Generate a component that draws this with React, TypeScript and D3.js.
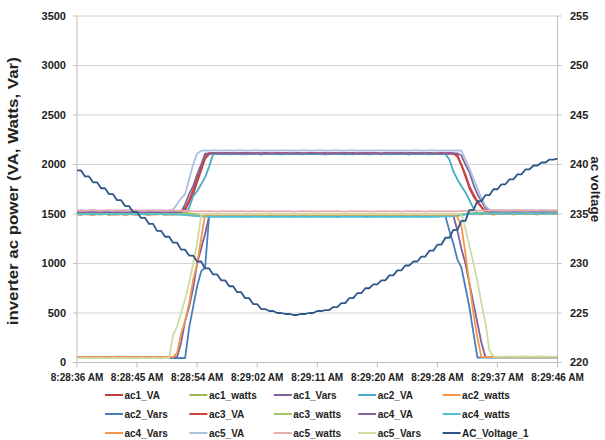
import React from "react";
import * as d3 from "d3";

const timeLabels = ["8:28:36 AM", "8:28:45 AM", "8:28:54 AM", "8:29:02 AM", "8:29:11 AM", "8:29:20 AM", "8:29:28 AM", "8:29:37 AM", "8:29:46 AM"];
const timeLabelIndex = [0, 15, 30, 45, 60, 75, 90, 105, 120];
const leftTicks = [0, 500, 1000, 1500, 2000, 2500, 3000, 3500];
const rightTicks = [220, 225, 230, 235, 240, 245, 250, 255];

const ac1_VA = [
  1513,1511,1515,1512,1510,1514,1513,1511,1516,1513,
  1512,1510,1514,1513,1511,1515,1512,1510,1513,1514,
  1511,1513,1515,1512,1510,1513,1511,1540,1620,1700,
  1820,1940,2060,2105,2112,2104,2110,2115,2106,2109,
  2113,2103,2108,2114,2105,2110,2102,2112,2107,2104,
  2111,2106,2114,2103,2109,2112,2105,2108,2115,2104,
  2110,2107,2103,2113,2108,2105,2111,2114,2106,2102,
  2109,2113,2104,2110,2107,2115,2103,2108,2112,2106,
  2104,2111,2108,2103,2114,2107,2110,2105,2112,2109,
  2106,2113,2104,2110,2108,2080,1990,1880,1760,1680,
  1620,1570,1518,1516,1520,1517,1515,1519,1516,1518,
  1520,1517,1515,1518,1516,1519,1517,1515,1518,1520,
  1517];
const ac1_watts = [
  1512,1510,1514,1511,1509,1513,1512,1510,1515,1512,
  1511,1509,1513,1512,1510,1514,1511,1509,1512,1513,
  1510,1512,1514,1511,1509,1512,1510,1508,1505,1500,
  1495,1490,1488,1486,1489,1487,1485,1488,1490,1486,
  1487,1489,1485,1488,1486,1490,1487,1485,1489,1488,
  1486,1488,1490,1487,1485,1489,1486,1488,1487,1490,
  1488,1485,1487,1489,1486,1488,1490,1487,1485,1488,
  1489,1486,1487,1490,1488,1485,1487,1489,1486,1488,
  1490,1487,1485,1488,1489,1486,1488,1487,1490,1486,
  1488,1485,1489,1487,1490,1492,1496,1500,1505,1508,
  1510,1512,1511,1513,1510,1512,1514,1511,1513,1510,
  1512,1514,1511,1510,1513,1512,1511,1514,1512,1510,
  1513];
const ac1_Vars = [
  55,56,54,55,57,55,54,56,55,54,
  56,55,54,57,55,56,54,55,56,54,
  55,57,54,56,55,55,200,420,560,750,
  1000,1150,1300,1480,1485,1486,1484,1485,1487,1484,
  1486,1485,1483,1486,1485,1487,1484,1485,1486,1484,
  1485,1487,1484,1486,1485,1483,1486,1485,1484,1487,
  1485,1484,1486,1485,1487,1484,1485,1486,1483,1485,
  1486,1484,1485,1487,1485,1484,1486,1485,1483,1486,
  1485,1487,1484,1485,1486,1484,1485,1487,1485,1484,
  1486,1485,1484,1486,1485,1330,1150,1000,800,600,
  400,200,55,54,56,55,57,54,55,56,
  55,54,56,55,57,55,54,56,55,54,
  55];
const ac2_VA = [
  1500,1499,1501,1500,1498,1500,1501,1499,1500,1501,
  1499,1500,1501,1498,1500,1499,1501,1500,1499,1500,
  1501,1499,1500,1498,1500,1501,1499,1500,1560,1680,
  1730,1800,1870,1980,2105,2104,2106,2105,2103,2106,
  2104,2105,2103,2106,2105,2104,2103,2105,2106,2104,
  2105,2103,2104,2106,2105,2104,2103,2105,2104,2106,
  2104,2105,2103,2104,2106,2105,2104,2103,2105,2104,
  2106,2104,2105,2103,2104,2105,2106,2104,2103,2105,
  2104,2106,2105,2103,2104,2105,2104,2106,2103,2105,
  2104,2105,2104,2050,1930,1850,1780,1720,1640,1560,
  1505,1504,1506,1505,1503,1505,1506,1504,1505,1503,
  1505,1506,1504,1505,1503,1506,1505,1504,1505,1506,
  1504];
const ac2_watts = [
  1496,1490,1502,1493,1488,1499,1494,1503,1489,1497,
  1492,1500,1487,1498,1494,1490,1503,1495,1488,1499,
  1493,1501,1489,1496,1491,1499,1494,1488,1497,1492,
  1486,1482,1490,1478,1488,1483,1476,1489,1481,1485,
  1479,1490,1484,1477,1488,1482,1486,1478,1491,1483,
  1480,1487,1476,1489,1484,1479,1490,1482,1477,1488,
  1483,1478,1489,1485,1480,1476,1488,1483,1490,1479,
  1485,1481,1477,1489,1484,1480,1487,1478,1490,1482,
  1486,1479,1484,1489,1477,1483,1488,1480,1485,1478,
  1489,1484,1479,1488,1482,1490,1494,1498,1502,1496,
  1503,1497,1505,1499,1494,1502,1506,1498,1503,1495,
  1501,1507,1497,1504,1499,1495,1503,1500,1506,1498,
  1502];
const ac2_Vars = [
  45,46,44,45,47,45,44,46,45,44,
  46,45,44,47,45,46,44,45,46,44,
  45,47,44,46,45,44,46,45,350,560,
  770,920,960,1480,1478,1477,1479,1478,1476,1479,
  1478,1477,1479,1476,1478,1479,1477,1478,1476,1479,
  1477,1478,1479,1476,1478,1477,1479,1478,1476,1477,
  1479,1478,1476,1477,1479,1478,1477,1476,1478,1479,
  1477,1478,1479,1476,1478,1477,1479,1478,1476,1477,
  1478,1479,1477,1476,1478,1479,1477,1478,1476,1479,
  1477,1478,1479,1330,1200,1040,960,760,560,300,
  50,51,49,50,52,50,49,51,50,49,
  51,50,49,52,50,51,49,50,51,49,
  50];
const ac3_VA = [
  1525,1526,1524,1525,1527,1525,1524,1526,1525,1524,
  1526,1525,1524,1527,1525,1526,1524,1525,1526,1524,
  1525,1527,1524,1526,1525,1524,1526,1560,1640,1740,
  1860,1980,2090,2115,2117,2114,2116,2113,2117,2115,
  2114,2116,2118,2113,2115,2117,2114,2116,2113,2115,
  2117,2114,2116,2115,2113,2117,2115,2114,2116,2118,
  2114,2115,2117,2113,2116,2114,2115,2117,2114,2116,
  2113,2115,2117,2114,2116,2115,2113,2117,2114,2116,
  2115,2117,2113,2116,2114,2115,2117,2114,2116,2113,
  2115,2117,2114,2116,2115,2095,2000,1900,1780,1700,
  1630,1575,1528,1530,1527,1529,1528,1526,1530,1528,
  1527,1529,1530,1528,1526,1529,1527,1530,1528,1526,
  1529];
const ac3_watts = [
  1505,1507,1503,1506,1508,1504,1506,1503,1507,1505,
  1504,1506,1508,1505,1503,1507,1504,1506,1505,1503,
  1507,1505,1504,1506,1503,1505,1507,1504,1500,1497,
  1494,1492,1490,1493,1491,1494,1490,1492,1495,1491,
  1493,1490,1494,1492,1491,1495,1492,1490,1493,1494,
  1491,1493,1490,1494,1492,1491,1495,1493,1490,1492,
  1494,1491,1493,1490,1492,1495,1491,1493,1494,1490,
  1492,1494,1491,1493,1490,1492,1495,1491,1493,1492,
  1490,1494,1492,1491,1493,1495,1490,1492,1494,1491,
  1493,1490,1492,1494,1491,1493,1497,1500,1503,1506,
  1508,1506,1509,1507,1505,1508,1510,1507,1506,1509,
  1507,1505,1508,1510,1506,1508,1507,1509,1505,1508,
  1507];
const ac4_VA = [
  1520,1521,1519,1520,1522,1520,1519,1521,1520,1522,
  1519,1520,1521,1520,1522,1519,1520,1521,1519,1520,
  1521,1520,1519,1522,1520,1521,1520,1600,1700,1780,
  1900,2000,2110,2112,2113,2111,2112,2114,2112,2111,
  2113,2112,2111,2114,2112,2113,2111,2112,2114,2113,
  2112,2111,2113,2112,2114,2111,2112,2113,2112,2111,
  2114,2112,2113,2111,2112,2114,2113,2112,2111,2113,
  2112,2114,2111,2112,2113,2112,2111,2114,2112,2113,
  2111,2112,2114,2113,2112,2111,2113,2112,2114,2112,
  2113,2111,2112,2114,2112,2113,2090,2000,1920,1800,
  1700,1630,1560,1525,1526,1524,1525,1527,1524,1526,
  1525,1524,1526,1527,1525,1524,1526,1525,1527,1524,
  1525];
const ac4_watts = [
  1498,1499,1497,1498,1500,1498,1497,1499,1498,1497,
  1499,1498,1497,1498,1499,1497,1498,1500,1498,1497,
  1498,1499,1497,1498,1496,1495,1493,1490,1486,1482,
  1478,1475,1473,1472,1473,1471,1472,1473,1471,1472,
  1473,1472,1471,1472,1473,1471,1472,1470,1471,1472,
  1471,1472,1470,1471,1472,1470,1471,1470,1472,1471,
  1470,1471,1472,1470,1471,1469,1470,1471,1470,1472,
  1471,1470,1469,1471,1470,1472,1471,1470,1471,1470,
  1472,1471,1470,1471,1473,1472,1471,1473,1472,1474,
  1473,1474,1475,1476,1478,1482,1488,1494,1499,1502,
  1504,1505,1504,1506,1505,1504,1506,1505,1504,1505,
  1506,1505,1504,1505,1506,1505,1504,1506,1505,1504,
  1505];
const ac4_Vars = [
  55,54,56,55,53,55,56,54,55,56,
  54,55,56,53,55,54,56,55,54,56,
  55,53,56,54,55,100,290,420,600,830,
  1000,1250,1495,1496,1494,1495,1497,1494,1495,1496,
  1494,1495,1497,1495,1494,1496,1495,1497,1494,1495,
  1496,1494,1495,1497,1495,1494,1496,1495,1494,1497,
  1495,1496,1494,1495,1497,1494,1495,1496,1495,1494,
  1497,1495,1494,1496,1495,1497,1494,1495,1496,1494,
  1495,1497,1494,1495,1496,1494,1495,1497,1495,1494,
  1496,1495,1494,1497,1495,1470,1380,1100,800,500,
  250,55,54,56,55,53,55,56,54,55,
  56,54,55,53,56,55,54,56,55,54,
  55];
const ac5_VA = [
  1536,1537,1535,1536,1538,1536,1535,1537,1536,1535,
  1537,1536,1535,1538,1536,1537,1535,1536,1537,1535,
  1536,1538,1535,1537,1545,1600,1660,1700,1850,2000,
  2110,2140,2142,2141,2143,2142,2140,2142,2143,2141,
  2142,2143,2141,2140,2142,2143,2141,2142,2140,2143,
  2141,2142,2143,2140,2142,2141,2143,2142,2140,2141,
  2143,2142,2140,2141,2143,2142,2141,2140,2142,2143,
  2141,2142,2140,2143,2141,2142,2143,2140,2142,2141,
  2142,2140,2143,2141,2142,2143,2141,2140,2142,2143,
  2141,2142,2140,2143,2141,2142,2140,2050,1960,1860,
  1760,1660,1580,1545,1538,1537,1539,1538,1536,1538,
  1537,1539,1538,1536,1538,1537,1539,1538,1536,1537,
  1538];
const ac5_watts = [
  1535,1537,1534,1536,1538,1535,1533,1536,1537,1534,
  1536,1535,1538,1534,1536,1537,1535,1533,1536,1538,
  1535,1537,1534,1536,1535,1533,1534,1532,1530,1528,
  1527,1528,1526,1529,1527,1525,1528,1526,1529,1527,
  1526,1528,1527,1525,1529,1526,1528,1527,1525,1528,
  1527,1529,1526,1528,1525,1527,1529,1526,1528,1527,
  1525,1528,1526,1529,1527,1528,1526,1525,1528,1527,
  1529,1526,1528,1527,1525,1528,1526,1529,1527,1526,
  1528,1525,1527,1529,1526,1528,1527,1525,1528,1526,
  1529,1527,1526,1528,1527,1529,1530,1532,1534,1535,
  1536,1534,1537,1535,1538,1536,1534,1537,1535,1536,
  1538,1535,1534,1537,1536,1535,1538,1536,1534,1537,
  1535];
const ac5_Vars = [
  45,44,46,45,43,45,46,44,45,46,
  44,45,46,43,45,44,46,45,44,46,
  45,43,46,45,280,360,500,640,800,1000,
  1200,1490,1500,1501,1499,1500,1502,1499,1500,1501,
  1499,1500,1502,1500,1499,1501,1500,1502,1499,1500,
  1501,1499,1500,1502,1500,1499,1501,1500,1499,1502,
  1500,1501,1499,1500,1502,1499,1500,1501,1500,1499,
  1502,1500,1499,1501,1500,1502,1499,1500,1501,1499,
  1500,1502,1499,1500,1501,1499,1500,1502,1500,1499,
  1501,1500,1499,1502,1500,1501,1499,1350,1180,1000,
  820,600,400,120,60,58,60,59,61,60,
  58,60,61,59,60,58,61,60,59,60,
  59];
const AC_Voltage_1 = [
  239.4,239.4,238.8,238.8,238.2,238.2,237.6,237.6,237.0,237.0,
  236.4,236.4,235.8,235.8,235.2,235.2,234.6,234.6,234.0,234.0,
  233.3,233.3,232.7,232.7,232.1,232.1,231.4,231.4,230.8,230.8,
  230.2,230.2,229.5,229.5,228.9,228.9,228.3,228.3,227.7,227.7,
  227.1,227.1,226.5,226.5,225.9,225.9,225.4,225.4,225.2,225.2,
  225.0,225.0,224.9,224.9,224.8,224.8,224.9,224.9,225.0,225.0,
  225.2,225.2,225.3,225.3,225.6,225.6,226.0,226.0,226.5,226.5,
  227.0,227.0,227.5,227.5,227.9,227.9,228.3,228.3,228.8,228.8,
  229.3,229.3,229.8,229.8,230.2,230.2,230.7,230.7,231.3,231.3,
  231.9,231.9,232.6,232.6,233.4,233.4,234.3,234.3,235.4,235.4,
  236.3,236.3,236.9,236.9,237.5,237.5,238.0,238.0,238.5,238.5,
  239.0,239.0,239.5,239.5,239.9,239.9,240.2,240.2,240.5,240.5,
  240.6];

const seriesNames = ["ac1_VA", "ac1_watts", "ac1_Vars", "ac2_VA", "ac2_watts", "ac2_Vars", "ac3_VA", "ac3_watts", "ac4_VA", "ac4_watts", "ac4_Vars", "ac5_VA", "ac5_watts", "ac5_Vars"];
const seriesValues = [ac1_VA, ac1_watts, ac1_Vars, ac2_VA, ac2_watts, ac2_Vars, ac3_VA, ac3_watts, ac4_VA, ac4_watts, ac4_Vars, ac5_VA, ac5_watts, ac5_Vars];
const seriesColors = ["#B9413E", "#98B954", "#7D5FA0", "#46AAC4", "#F59542", "#4A7EBB", "#D0423D", "#A9C466", "#8064A2", "#4BC0D6", "#F7964A", "#A9C0E2", "#E9ADAB", "#CBDCA4"];
const voltageName = "AC_Voltage_1";
const voltageColor = "#2F5689";

const W = 605, H = 440;
const PL = 77, PR = 557.5, PT = 16, PB = 362.5;
const FONT = "'Liberation Sans', Arial, sans-serif";

export default function App() {
  const x = d3.scaleLinear().domain([0, AC_Voltage_1.length - 1]).range([PL, PR]);
  const yL = d3.scaleLinear().domain([0, 3500]).range([PB, PT]);
  const yR = d3.scaleLinear().domain([220, 255]).range([PB, PT]);
  const lineL = d3.line<number>().x((_, i) => x(i)).y((d) => yL(d));
  const lineR = d3.line<number>().x((_, i) => x(i)).y((d) => yR(d));

  const legendItems = [...seriesNames.map((n, i) => ({ name: n, color: seriesColors[i] })), { name: voltageName, color: voltageColor }];
  const colX = [105, 189.4, 273.8, 358.2, 442.6];
  const rowY = [395, 414, 433];

  return (
    <svg width={W} height={H} style={{ position: "absolute", left: 0, top: 0, background: "#fff" }} fontFamily={FONT}>
      <rect x={0} y={0} width={W} height={H} fill="#fff" />
      {leftTicks.map((t) => (
        <line key={"g" + t} x1={PL} x2={PR} y1={yL(t)} y2={yL(t)} stroke="#D4D4D4" strokeWidth={1} />
      ))}
      <line x1={PL} x2={PL} y1={PT} y2={PB} stroke="#BFBFBF" />
      <line x1={PR} x2={PR} y1={PT} y2={PB} stroke="#BFBFBF" />
      <line x1={PL} x2={PR} y1={PB} y2={PB} stroke="#BFBFBF" />
      {leftTicks.map((t) => (
        <line key={"lt" + t} x1={PL - 4} x2={PL} y1={yL(t)} y2={yL(t)} stroke="#BFBFBF" />
      ))}
      {rightTicks.map((t) => (
        <line key={"rt" + t} x1={PR} x2={PR + 4} y1={yR(t)} y2={yR(t)} stroke="#BFBFBF" />
      ))}
      {timeLabelIndex.map((idx) => (
        <line key={"xt" + idx} x1={x(idx)} x2={x(idx)} y1={PB} y2={PB + 5} stroke="#BFBFBF" />
      ))}
      {leftTicks.map((t) => (
        <text key={"ll" + t} x={66} y={yL(t)} dy="0.35em" textAnchor="end" fontSize={11} fontWeight="bold" fill="#222">{t}</text>
      ))}
      {rightTicks.map((t) => (
        <text key={"rl" + t} x={570} y={yR(t)} dy="0.35em" textAnchor="start" fontSize={11} fontWeight="bold" fill="#222">{t}</text>
      ))}
      {timeLabels.map((lab, k) => (
        <text key={"xl" + k} x={x(timeLabelIndex[k])} y={377} dy="0.35em" textAnchor="middle" fontSize={10} fontWeight="bold" fill="#222">{lab}</text>
      ))}
      <text transform={`translate(13, ${(PT + PB) / 2 + 2}) rotate(-90)`} textAnchor="middle" dy="0.35em" fontSize={14} fontWeight="bold" fill="#222" textLength={268} lengthAdjust="spacingAndGlyphs">inverter ac power (VA, Watts, Var)</text>
      <text transform={`translate(596, ${(PT + PB) / 2}) rotate(90)`} textAnchor="middle" dy="0.35em" fontSize={13.5} fontWeight="bold" fill="#222">ac voltage</text>
      {seriesValues.map((vals, i) => (
        <path key={seriesNames[i]} d={lineL(vals) || ""} fill="none" stroke={seriesColors[i]} strokeWidth={1.8} strokeLinejoin="round" />
      ))}
      <path d={lineR(AC_Voltage_1) || ""} fill="none" stroke={voltageColor} strokeWidth={1.8} strokeLinejoin="round" />
      {legendItems.map((it, k) => {
        const cx = colX[k % 5];
        const cy = rowY[Math.floor(k / 5)];
        return (
          <g key={"lg" + it.name}>
            <line x1={cx} x2={cx + 18} y1={cy} y2={cy} stroke={it.color} strokeWidth={2} />
            <text x={cx + 19.5} y={cy} dy="0.35em" fontSize={10} fontWeight="bold" fill="#222">{it.name}</text>
          </g>
        );
      })}
    </svg>
  );
}
